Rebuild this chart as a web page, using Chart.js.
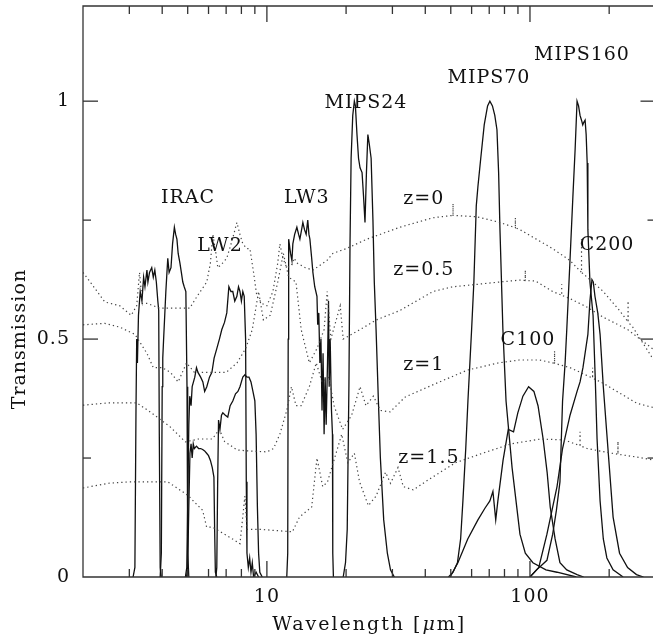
<!DOCTYPE html>
<html><head><meta charset="utf-8">
<script src="https://cdn.jsdelivr.net/npm/chart.js@4.4.1/dist/chart.umd.min.js"></script>
<style>
html,body{margin:0;padding:0;overflow:hidden;background:#fff;width:653px;height:639px}
#wrap{position:absolute;left:0;top:0;width:656px;height:639px}
</style></head><body><div id="wrap"><canvas id="c" width="656" height="639"></canvas></div>
<script>
// ---------- filter transmission curves (wavelength in micron, transmission) ----------
const iracCh1Wave  = [3.10,3.15,3.18,3.20,3.22,3.25,3.30,3.35,3.40,3.44,3.50,3.53,3.58,3.65,3.70,3.75,3.80,3.85,3.88,3.90,3.93,3.97];
const iracCh1Trans = [0,0.02,0.35,0.50,0.45,0.55,0.60,0.58,0.63,0.61,0.645,0.62,0.64,0.65,0.63,0.645,0.62,0.58,0.56,0.30,0.02,0];

const iracCh2Wave  = [3.93,3.97,4.00,4.02,4.05,4.09,4.13,4.20,4.25,4.32,4.38,4.45,4.50,4.55,4.60,4.67,4.73,4.79,4.85,4.92,4.97,5.00,5.05];
const iracCh2Trans = [0,0.05,0.40,0.46,0.50,0.55,0.60,0.67,0.64,0.65,0.70,0.735,0.72,0.71,0.68,0.66,0.64,0.62,0.61,0.60,0.40,0.05,0];

const iracCh3Wave  = [4.95,5.00,5.05,5.10,5.15,5.20,5.25,5.30,5.40,5.50,5.60,5.70,5.80,5.90,6.00,6.10,6.20,6.29,6.33,6.37,6.45];
const iracCh3Trans = [0,0.02,0.15,0.26,0.28,0.25,0.28,0.27,0.275,0.27,0.27,0.268,0.265,0.26,0.255,0.245,0.23,0.21,0.10,0.01,0];

const iracCh4Wave  = [6.40,6.45,6.50,6.55,6.63,6.72,6.80,6.95,7.10,7.25,7.42,7.60,7.76,7.90,8.00,8.10,8.25,8.40,8.55,8.70,8.85,9.00,9.10,9.20,9.30,9.40,9.60];
const iracCh4Trans = [0,0.02,0.20,0.33,0.31,0.34,0.345,0.34,0.336,0.36,0.37,0.385,0.39,0.40,0.41,0.42,0.425,0.42,0.42,0.41,0.39,0.37,0.30,0.15,0.05,0.01,0];

const lw2Wave  = [4.90,4.96,5.00,5.05,5.09,5.15,5.20,5.32,5.40,5.47,5.60,5.71,5.80,5.91,6.05,6.18,6.30,6.45,6.60,6.74,6.90,7.04,7.17,7.30,7.42,7.55,7.69,7.80,7.90,8.00,8.10,8.20,8.30,8.35,8.40,8.50,8.60,8.70,8.80,8.90,9.10,9.30];
const lw2Trans = [0,0.02,0.15,0.32,0.38,0.36,0.40,0.42,0.44,0.43,0.42,0.41,0.39,0.40,0.42,0.43,0.46,0.48,0.50,0.52,0.535,0.555,0.61,0.60,0.60,0.58,0.59,0.61,0.60,0.58,0.60,0.59,0.50,0.20,0.05,0.02,0.04,0.01,0.03,0,0.01,0];

const lw3Wave  = [11.9,12.0,12.05,12.1,12.3,12.45,12.55,12.75,13.0,13.2,13.35,13.55,13.7,13.9,14.1,14.3,14.45,14.57,14.8,14.96,15.2,15.5,15.6,15.75,15.9,16.05,16.2,16.35,16.5,16.65,16.8,17.0,17.15,17.25,17.4,17.6,17.75,17.8,17.9];
const lw3Trans = [0,0.05,0.50,0.71,0.68,0.665,0.70,0.72,0.735,0.72,0.71,0.73,0.745,0.73,0.72,0.75,0.72,0.71,0.67,0.64,0.61,0.59,0.53,0.555,0.45,0.50,0.35,0.47,0.30,0.42,0.32,0.45,0.58,0.40,0.50,0.35,0.30,0.05,0];

const mips24Wave  = [19.5,19.9,20.2,20.5,20.7,20.9,21.2,21.5,21.7,22.0,22.3,22.6,23.0,23.3,23.6,23.9,24.2,24.5,24.9,25.3,25.6,26.0,26.5,27.0,27.8,28.7,29.5,30.5];
const mips24Trans = [0,0.03,0.10,0.40,0.70,0.88,0.97,1.0,0.99,0.93,0.88,0.86,0.85,0.80,0.745,0.85,0.93,0.91,0.88,0.75,0.62,0.52,0.38,0.25,0.12,0.05,0.015,0];

const mips70Wave  = [49,51,53,54.5,55.6,57,58.1,60.0,61.2,62.5,63.4,65,67,69,70.4,72,73.5,74.9,76,76.9,78.9,81.1,85.5,91.6,96,102.6,115,126.7,150];
const mips70Trans = [0,0.01,0.03,0.08,0.16,0.27,0.37,0.52,0.62,0.78,0.82,0.88,0.95,0.99,1.0,0.99,0.97,0.94,0.85,0.73,0.52,0.37,0.23,0.09,0.05,0.03,0.015,0.01,0];

const mips160Wave  = [100,106,116,122,126,130,133,136,138,141.8,145.6,148.5,151,153,155,157,158.7,160,162,163.5,165,166,169,173.7,177,179.9,184.7,190,196,207,226];
const mips160Trans = [0,0.015,0.035,0.09,0.14,0.20,0.37,0.45,0.52,0.66,0.80,0.90,1.0,0.99,0.97,0.96,0.95,0.955,0.96,0.93,0.87,0.73,0.62,0.55,0.42,0.29,0.16,0.08,0.04,0.015,0];

const c100Wave  = [49.7,53.2,58,63.4,67.5,70.4,72.3,74.1,75.5,79,82.7,86.6,89.9,94,98.8,103.5,107.3,112.2,116.2,119.4,124.6,130,138,151,160];
const c100Trans = [0,0.03,0.08,0.12,0.145,0.16,0.18,0.12,0.16,0.245,0.31,0.305,0.345,0.38,0.40,0.39,0.36,0.29,0.22,0.147,0.08,0.03,0.015,0.005,0];

const c200Wave  = [100,108,116,126.7,133,142,151,155,159,166,169,172,174,176.6,181,184.7,190,196,207,219,235,254,270];
const c200Trans = [0,0.02,0.09,0.19,0.27,0.34,0.39,0.41,0.44,0.51,0.58,0.625,0.62,0.59,0.555,0.51,0.40,0.30,0.126,0.05,0.02,0.005,0];

// ---------- redshifted galaxy templates (dotted) ----------
const sedZ0Wave  = [2.0,2.13,2.42,2.76,3.05,3.2,3.28,3.36,3.5,3.92,4.5,5.09,5.43,5.91,6.1,6.23,6.4,6.51,6.8,7.04,7.4,7.69,7.9,8.1,8.4,8.62,8.9,9.16,9.57,10,10.54,11.0,11.2,11.5,11.9,12.4,12.7,13.0,14.0,14.96,16.9,17.8,20,24,32,42.8,51,51,51,62.9,76.9,88,88,88,91.6,122,142,157,157,157,165,190,219,236,236,236,246,300];
const sedZ0Trans = [0.64,0.62,0.578,0.57,0.55,0.57,0.64,0.575,0.575,0.565,0.565,0.565,0.59,0.62,0.66,0.72,0.68,0.65,0.66,0.67,0.71,0.745,0.72,0.70,0.69,0.69,0.64,0.59,0.575,0.57,0.60,0.66,0.70,0.67,0.65,0.655,0.67,0.66,0.65,0.645,0.665,0.68,0.69,0.71,0.735,0.755,0.76,0.785,0.76,0.757,0.745,0.734,0.755,0.734,0.73,0.69,0.665,0.64,0.71,0.64,0.63,0.60,0.56,0.536,0.58,0.536,0.525,0.45];

const sedZ05Wave  = [2.0,2.42,2.76,3.15,3.5,3.7,4.0,4.3,4.6,4.95,5.3,6.0,7.0,7.7,8.3,8.8,9.3,9.7,10.3,11.0,11.55,12.1,12.9,13.5,14.5,15.5,16.5,16.95,17.5,19,19.5,21,22.6,26,32,42.8,51,62.9,76.9,91.6,96,96,96,105,122,132,132,132,142,165,190,235,300];
const sedZ05Trans = [0.53,0.533,0.525,0.51,0.47,0.44,0.44,0.43,0.41,0.45,0.43,0.43,0.43,0.45,0.48,0.52,0.60,0.54,0.55,0.62,0.68,0.63,0.62,0.52,0.45,0.48,0.52,0.60,0.50,0.57,0.50,0.51,0.52,0.54,0.56,0.60,0.61,0.615,0.62,0.624,0.623,0.645,0.623,0.622,0.60,0.592,0.615,0.592,0.585,0.567,0.546,0.52,0.475];

const sedZ1Wave  = [2.0,2.5,3.2,3.6,4.3,4.9,5.5,6.2,6.6,6.9,7.7,8.5,10,10.6,11.2,11.9,12.4,12.9,13.5,14.5,15.4,16.2,17.2,18,19.4,21,22.6,23.8,25.4,27,29.4,33.5,44,58,76,91,109,124,124,124,142,173,173,173,190,255,300];
const sedZ1Trans = [0.361,0.366,0.366,0.347,0.315,0.284,0.29,0.29,0.31,0.285,0.267,0.265,0.263,0.27,0.30,0.35,0.40,0.36,0.36,0.40,0.45,0.41,0.42,0.36,0.31,0.34,0.40,0.36,0.38,0.35,0.347,0.378,0.407,0.435,0.45,0.456,0.456,0.449,0.475,0.449,0.44,0.418,0.44,0.418,0.407,0.365,0.355];

const sedZ15Wave  = [2.0,2.5,3.0,4.0,4.2,5.0,5.7,5.9,6.2,7.4,7.9,8.25,8.4,9.5,12.5,13.3,14.8,15.5,16.3,17.0,19.25,20.3,21.5,22.5,24.3,26,28.25,29.5,31.5,33,36,41,52,66,85,110,135,155,155,155,165,205,216,216,216,255,300];
const sedZ15Trans = [0.187,0.197,0.20,0.20,0.20,0.172,0.14,0.105,0.105,0.08,0.07,0.17,0.10,0.10,0.095,0.126,0.147,0.25,0.19,0.20,0.30,0.24,0.26,0.20,0.15,0.17,0.22,0.197,0.23,0.19,0.183,0.204,0.24,0.26,0.28,0.29,0.288,0.276,0.305,0.276,0.27,0.26,0.258,0.285,0.258,0.252,0.245];

// ---------- axes ----------
const xMin = 2, xMax = 300, yMin = 0, yMax = 1.2;
const xMinorTicks = [3,4,5,6,7,8,9,20,30,40,50,60,70,80,90,200];
const xMajorTicks = [10,100];
const xTickLabels = ['10','100'];
const yMinorTicks = [0.25,0.75];
const yMajorTicks = [0.5,1];
const yLabelValues = [0,0.5,1];
const yTickLabels = ['0','0.5','1'];

// ---------- curve labels (text, wavelength, transmission) ----------
const labelTexts = ['IRAC','LW2','LW3','MIPS24','MIPS70','MIPS160','z=0','z=0.5','z=1','z=1.5','C100','C200'];
const labelWaves = [5.01,6.63,14.19,23.8,69.8,157.6,39.5,39.5,39.5,41.3,98.3,196.3];
const labelTrans = [0.796,0.695,0.796,0.996,1.048,1.097,0.794,0.645,0.445,0.25,0.498,0.697];

const pts = (w,t) => w.map((v,i)=>({x:v,y:t[i]}));
const solid = (w,t) => ({data:pts(w,t), borderColor:'#111', borderWidth:1.3, pointRadius:0, tension:0, fill:false});
const dotted = (w,t) => ({data:pts(w,t), borderColor:'#444', borderWidth:1.2, borderDash:[1.3,3], pointRadius:0, tension:0, fill:false});

const FONT = '"DejaVu Serif", serif';

const framePlugin = {
  id:'framePlugin',
  afterDraw(chart){
    const {ctx, chartArea:a, scales:{x, y}} = chart;
    ctx.save();
    ctx.strokeStyle = '#333';
    ctx.lineWidth = 1.3;
    ctx.beginPath();
    ctx.rect(a.left, a.top, a.right - a.left, a.bottom - a.top);
    ctx.stroke();
    const line = (x1,y1,x2,y2)=>{ctx.beginPath();ctx.moveTo(x1,y1);ctx.lineTo(x2,y2);ctx.stroke();};
    xMinorTicks.forEach(v=>{const p=x.getPixelForValue(v); line(p,a.bottom,p,a.bottom-8); line(p,a.top,p,a.top+8);});
    xMajorTicks.forEach(v=>{const p=x.getPixelForValue(v); line(p,a.bottom,p,a.bottom-16); line(p,a.top,p,a.top+16);});
    yMinorTicks.forEach(v=>{const p=y.getPixelForValue(v); line(a.left,p,a.left+8,p); line(a.right,p,a.right-8,p);});
    yMajorTicks.forEach(v=>{const p=y.getPixelForValue(v); line(a.left,p,a.left+15,p); line(a.right,p,a.right-15,p);});

    ctx.fillStyle = '#111';
    ctx.font = '19px ' + FONT;
    ctx.letterSpacing = '1px';
    ctx.textBaseline = 'middle';
    ctx.textAlign = 'center';
    xMajorTicks.forEach((v,i)=>ctx.fillText(xTickLabels[i], x.getPixelForValue(v), a.bottom + 20));
    ctx.textAlign = 'right';
    yLabelValues.forEach((v,i)=>ctx.fillText(yTickLabels[i], a.left - 13, y.getPixelForValue(v)));

    // curve labels
    ctx.textAlign = 'center';
    labelTexts.forEach((t,i)=>ctx.fillText(t, x.getPixelForValue(labelWaves[i]), y.getPixelForValue(labelTrans[i])));

    // x title with italic mu
    ctx.letterSpacing = '2px';
    const parts = [['Wavelength [',''],['μ','italic '],['m]','']];
    let total = 0;
    parts.forEach(p=>{ctx.font = p[1]+'19px '+FONT; total += ctx.measureText(p[0]).width;});
    let cx = (a.left + a.right)/2 - total/2;
    ctx.textAlign = 'left';
    parts.forEach(p=>{ctx.font = p[1]+'19px '+FONT; ctx.fillText(p[0], cx, a.bottom + 48); cx += ctx.measureText(p[0]).width;});

    // y title
    ctx.font = '19px ' + FONT;
    ctx.letterSpacing = '1px';
    ctx.translate(20, y.getPixelForValue(0.5));
    ctx.rotate(-Math.PI/2);
    ctx.textAlign = 'center';
    ctx.fillText('Transmission', 0, 0);
    ctx.restore();
  }
};

new Chart(document.getElementById('c'), {
  type:'line',
  data:{datasets:[
    dotted(sedZ0Wave, sedZ0Trans),
    dotted(sedZ05Wave, sedZ05Trans),
    dotted(sedZ1Wave, sedZ1Trans),
    dotted(sedZ15Wave, sedZ15Trans),
    solid(iracCh1Wave, iracCh1Trans),
    solid(iracCh2Wave, iracCh2Trans),
    solid(iracCh3Wave, iracCh3Trans),
    solid(iracCh4Wave, iracCh4Trans),
    solid(lw2Wave, lw2Trans),
    solid(lw3Wave, lw3Trans),
    solid(mips24Wave, mips24Trans),
    solid(mips70Wave, mips70Trans),
    solid(mips160Wave, mips160Trans),
    solid(c100Wave, c100Trans),
    solid(c200Wave, c200Trans)
  ]},
  options:{
    responsive:false, animation:false, devicePixelRatio:1, events:[],
    layout:{padding:{left:83, top:6, right:0.5, bottom:62}},
    plugins:{legend:{display:false}, tooltip:{enabled:false}, title:{display:false}},
    scales:{
      x:{type:'logarithmic', min:xMin, max:xMax, display:false},
      y:{type:'linear', min:yMin, max:yMax, display:false}
    }
  },
  plugins:[framePlugin]
});
</script></body></html>
